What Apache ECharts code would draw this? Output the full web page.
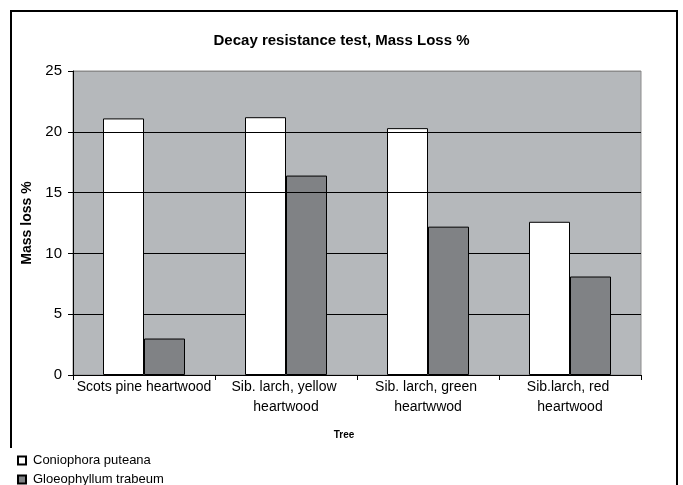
<!DOCTYPE html>
<html>
<head>
<meta charset="utf-8">
<script src="https://cdn.jsdelivr.net/npm/echarts@6/dist/echarts.min.js"></script>
<style>
  html, body { margin: 0; padding: 0; background: #fff; }
  #main { width: 683px; height: 485px; }
</style>
</head>
<body>
<div id="main"></div>
<script>
// categories and values
let trees = ['Scots pine heartwood', 'Sib. larch, yellow heartwood', 'Sib. larch, green heartwwod', 'Sib.larch, red heartwood'];
let coniophora = [21.1, 21.2, 20.3, 12.6];
let gloeophyllum = [3.0, 16.4, 12.2, 8.1];
let seriesNames = ['Coniophora puteana', 'Gloeophyllum trabeum'];
let yTicks = [0, 5, 10, 15, 20, 25];
// Excel drew these two gridlines over the bars
let linesOnTop = [15, 20];

let font = 'Liberation Sans, Arial, sans-serif';

let chart = echarts.init(document.getElementById('main'));

// one legend per row, stacked like the Excel legend
function legendRow(name, top) {
    return {
        orient: 'vertical',
        left: 17,
        top: top,
        padding: 0,
        itemWidth: 8,
        itemHeight: 8,
        icon: 'rect',
        textStyle: { fontFamily: font, fontSize: 13, color: '#000', padding: [0, 0, 0, 2] },
        data: [name]
    };
}

let option = {
    animation: false,
    backgroundColor: '#fff',
    title: {
        text: 'Decay resistance test, Mass Loss %',
        left: 'center',
        top: 33,
        padding: 0,
        textStyle: { fontFamily: font, fontSize: 15, fontWeight: 'bold', color: '#000' }
    },
    grid: {
        left: 73, top: 71, right: 42, bottom: 110,
        show: true,
        backgroundColor: '#b5b8bb',
        borderColor: '#8c8c8c',
        borderWidth: 1
    },
    legend: [legendRow(seriesNames[0], 454), legendRow(seriesNames[1], 473)],
    xAxis: {
        type: 'category',
        data: trees,
        name: 'Tree',
        nameLocation: 'middle',
        nameGap: 55,
        nameTextStyle: { fontFamily: font, fontSize: 10, fontWeight: 'bold', color: '#000', padding: [0, 26, 0, 0] },
        axisLine: { lineStyle: { color: '#000', width: 1 } },
        axisTick: { show: true, length: 5, lineStyle: { color: '#000' } },
        axisLabel: {
            fontFamily: font, fontSize: 14, color: '#000',
            margin: 2, lineHeight: 20,
            width: 140, overflow: 'break', interval: 0
        },
        splitLine: { show: false }
    },
    yAxis: {
        type: 'value',
        min: yTicks[0],
        max: yTicks[yTicks.length - 1],
        interval: 5,
        name: 'Mass loss %',
        nameLocation: 'middle',
        nameGap: 33,
        nameTextStyle: { fontFamily: font, fontSize: 14, fontWeight: 'bold', color: '#000' },
        axisLine: { show: true, lineStyle: { color: '#000', width: 1 } },
        axisTick: { show: true, length: 5, lineStyle: { color: '#000' } },
        axisLabel: { fontFamily: font, fontSize: 15, color: '#000', margin: 11 },
        splitLine: {
            show: true,
            lineStyle: { color: ['#000', '#000', '#000', '#000', '#000', '#8c8c8c'], width: 1 }
        }
    },
    series: [
        {
            name: seriesNames[0],
            type: 'bar',
            data: coniophora,
            barWidth: 41,
            barGap: '0%',
            itemStyle: { color: '#ffffff', borderColor: '#000', borderWidth: 1 }
        },
        {
            name: seriesNames[1],
            type: 'bar',
            data: gloeophyllum,
            barWidth: 41,
            barGap: '0%',
            itemStyle: { color: '#808285', borderColor: '#000', borderWidth: 1 },
            markLine: {
                silent: true,
                symbol: 'none',
                label: { show: false },
                lineStyle: { color: '#000', width: 1, type: 'solid' },
                data: linesOnTop.map(function (v) { return { yAxis: v }; })
            }
        }
    ],
    graphic: [
        {
            type: 'rect',
            shape: { x: 11, y: 11, width: 666, height: 520 },
            style: { fill: 'none', stroke: '#000', lineWidth: 2 },
            silent: true
        },
        {
            type: 'rect',
            shape: { x: 0, y: 448, width: 20, height: 40 },
            style: { fill: '#fff' },
            silent: true
        }
    ]
};

chart.setOption(option);
</script>
</body>
</html>
